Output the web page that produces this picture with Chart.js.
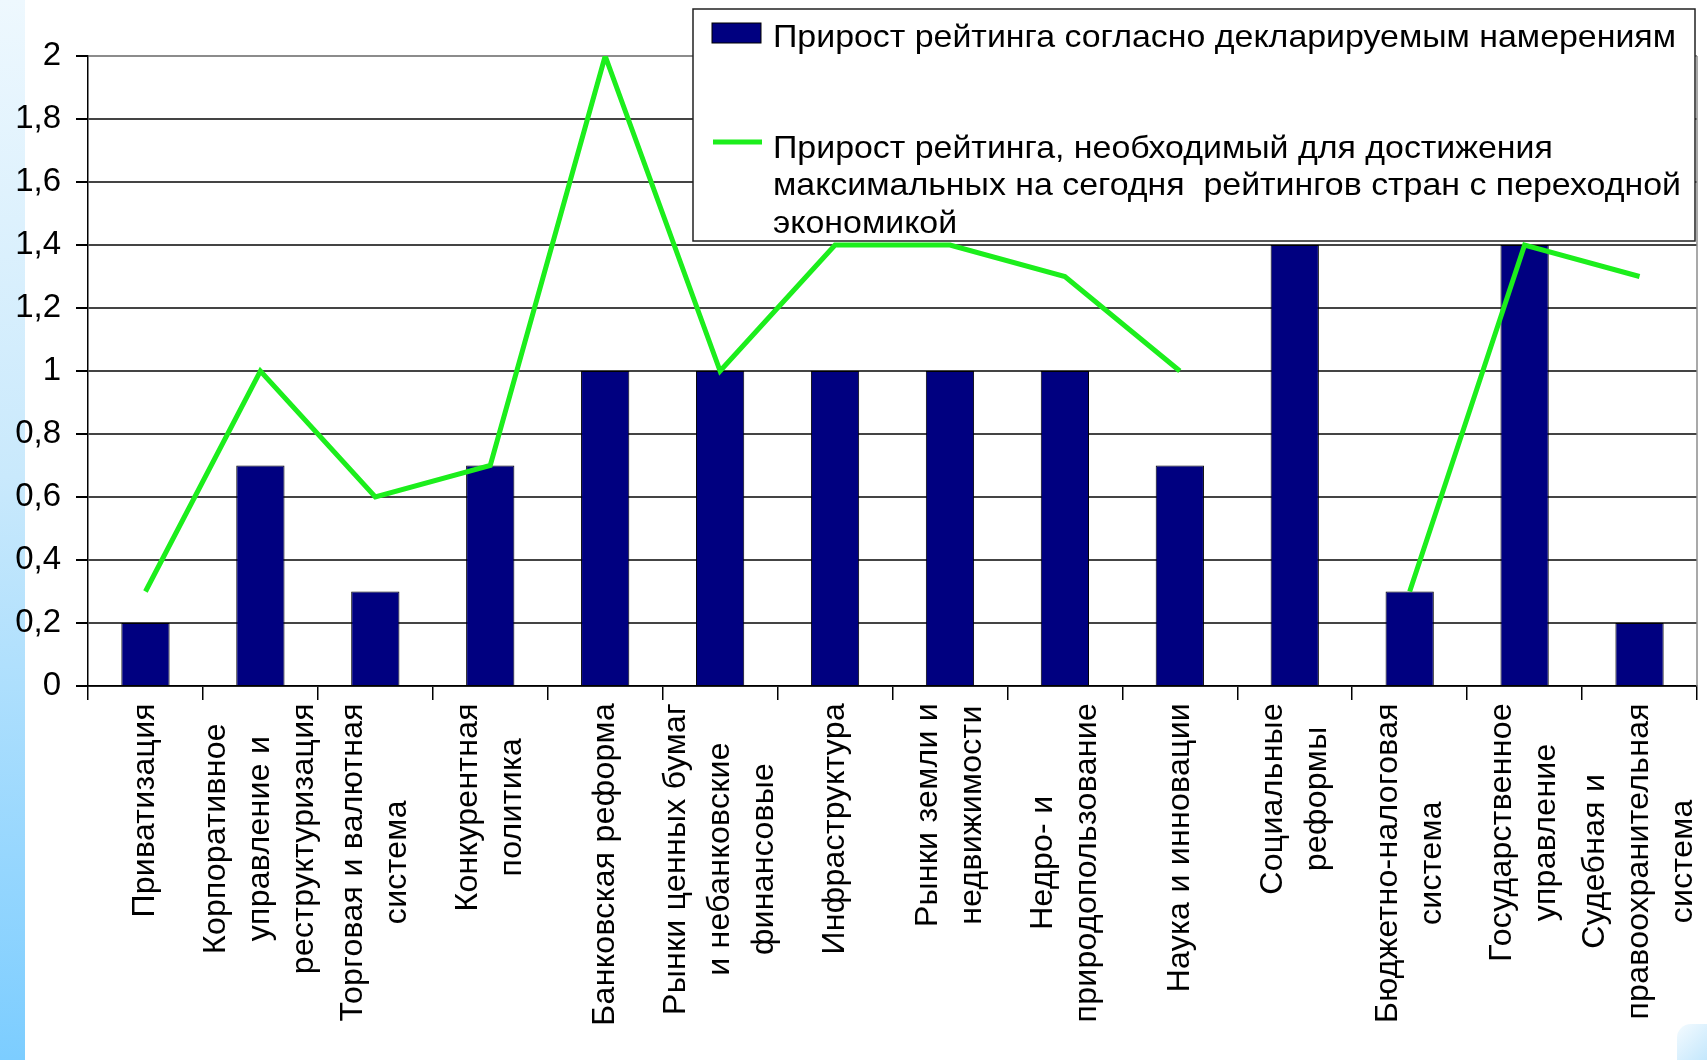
<!DOCTYPE html>
<html>
<head>
<meta charset="utf-8">
<script src="https://cdn.jsdelivr.net/npm/chart.js@4"></script>
<style>
  html, body { margin: 0; padding: 0; background: #fff; }
  body { width: 1707px; height: 1060px; position: relative; overflow: hidden; }
  .strip { position: absolute; left: 0; top: 0; width: 25px; height: 1060px;
           background: linear-gradient(to bottom, #eef8fe 0%, #c9e9fc 45%, #7ccdff 100%); }
  .corner { position: absolute; right: 0; bottom: 0; width: 30px; height: 36px;
            border-top-left-radius: 14px;
            background: linear-gradient(135deg, #f4fbff 0%, #c4e7fc 100%); }
  #chart { position: absolute; left: 0; top: 0; }
</style>
</head>
<body>
<div class="strip"></div>
<div class="corner"></div>
<canvas id="chart" width="1707" height="1060"></canvas>
<script>
const FONT = '"Liberation Sans", Arial, sans-serif';

// categories, one array of lines each (labels are drawn rotated)
const categories = [
  ['Приватизация'],
  ['Корпоративное', 'управление и', 'реструктуризация'],
  ['Торговая и валютная', 'система'],
  ['Конкурентная', 'политика'],
  ['Банковская реформа'],
  ['Рынки ценных бумаг', 'и небанковские', 'финансовые'],
  ['Инфраструктура'],
  ['Рынки земли и', 'недвижимости'],
  ['Недро- и', 'природопользование'],
  ['Наука и инновации'],
  ['Социальные', 'реформы'],
  ['Бюджетно-налоговая', 'система'],
  ['Государственное', 'управление'],
  ['Судебная и', 'правоохранительная', 'система']
];

const declaredGrowth = [0.2, 0.7, 0.3, 0.7, 1, 1, 1, 1, 1, 0.7, 1.4, 0.3, 1.4, 0.2];
const requiredGrowth = [0.3, 1.0, 0.6, 0.7, 2.0, 1.0, 1.4, 1.4, 1.3, 1.0, null, 0.3, 1.4, 1.3];

const barLegendLines = ['Прирост рейтинга согласно декларируемым намерениям'];
const lineLegendLines = [
  'Прирост рейтинга, необходимый для достижения',
  'максимальных на сегодня  рейтингов стран с переходной',
  'экономикой'
];

const yTickLabels = ['0', '0,2', '0,4', '0,6', '0,8', '1', '1,2', '1,4', '1,6', '1,8', '2'];

const BAR_COLOR = '#000080';
const LINE_COLOR = '#1cee1c';

// rotated, centred multi-line category labels
const categoryLabels = {
  id: 'categoryLabels',
  afterDraw(chart) {
    const ctx = chart.ctx;
    const xs = chart.scales.x;
    const top = chart.chartArea.bottom + 17;
    const lh = 44;
    ctx.save();
    ctx.font = '32px ' + FONT;
    ctx.letterSpacing = '0.3px';
    ctx.fillStyle = '#000';
    ctx.textAlign = 'center';
    ctx.textBaseline = 'middle';
    categories.forEach((lines, i) => {
      const x = xs.getPixelForValue(i);
      const maxW = Math.max(...lines.map(l => ctx.measureText(l).width));
      ctx.save();
      ctx.translate(x, top);
      ctx.rotate(-Math.PI / 2);
      lines.forEach((l, j) => {
        ctx.fillText(l, -maxW / 2, (j - (lines.length - 1) / 2) * lh);
      });
      ctx.restore();
    });
    ctx.restore();
  }
};

// plot border on the right + boxed legend over the plot
const boxLegend = {
  id: 'boxLegend',
  afterDatasetsDraw(chart) {
    const ctx = chart.ctx;
    const a = chart.chartArea;
    ctx.save();
    ctx.strokeStyle = '#8c8c8c';
    ctx.lineWidth = 1.5;
    ctx.beginPath();
    ctx.moveTo(a.right, a.top);
    ctx.lineTo(a.right, a.bottom);
    ctx.stroke();

    const bx = 693, by = 9, bw = 1002, bh = 232;
    ctx.fillStyle = '#fff';
    ctx.fillRect(bx, by, bw, bh);
    ctx.strokeStyle = '#222';
    ctx.lineWidth = 1.5;
    ctx.strokeRect(bx, by, bw, bh);

    ctx.font = '31px ' + FONT;
    ctx.fillStyle = '#000';
    ctx.textBaseline = 'middle';
    const fx = 903 / ctx.measureText(barLegendLines[0]).width;
    const drawText = (t, x, y) => {
      ctx.save();
      ctx.translate(x, y);
      ctx.scale(fx, 1.04);
      ctx.fillText(t, 0, 0);
      ctx.restore();
    };

    // bar entry
    ctx.fillStyle = BAR_COLOR;
    ctx.fillRect(712, 23, 49, 20);
    ctx.strokeStyle = '#000';
    ctx.lineWidth = 1;
    ctx.strokeRect(712, 23, 49, 20);
    ctx.fillStyle = '#000';
    barLegendLines.forEach((t, j) => drawText(t, 773, 38 + j * 37.5));

    // line entry
    ctx.strokeStyle = LINE_COLOR;
    ctx.lineWidth = 5;
    ctx.beginPath();
    ctx.moveTo(713, 142);
    ctx.lineTo(762, 142);
    ctx.stroke();
    lineLegendLines.forEach((t, j) => drawText(t, 773, 149 + j * 37.5));
    ctx.restore();
  }
};

new Chart(document.getElementById('chart'), {
  type: 'bar',
  data: {
    labels: categories.map(l => l.join(' ')),
    datasets: [
      {
        type: 'line',
        label: lineLegendLines.join(' '),
        data: requiredGrowth,
        borderColor: LINE_COLOR,
        borderWidth: 5,
        pointRadius: 0,
        tension: 0,
        spanGaps: false,
        order: 1
      },
      {
        type: 'bar',
        label: barLegendLines.join(' '),
        data: declaredGrowth,
        backgroundColor: BAR_COLOR,
        borderColor: '#000',
        borderWidth: 1,
        barPercentage: 0.42,
        categoryPercentage: 1,
        order: 2
      }
    ]
  },
  options: {
    responsive: false,
    animation: false,
    layout: { padding: { top: 56, right: 10, left: 0, bottom: 0 } },
    plugins: {
      legend: { display: false },
      tooltip: { enabled: false }
    },
    scales: {
      x: {
        offset: true,
        grid: { drawOnChartArea: false, tickLength: 14, color: '#000', lineWidth: 1.5 },
        border: { color: '#000', width: 1.5 },
        ticks: { display: false },
        afterFit: s => { s.height = 374; }
      },
      y: {
        min: 0,
        max: 2,
        ticks: {
          stepSize: 0.2,
          color: '#000',
          padding: 15,
          font: { size: 33, family: FONT },
          callback: (v, i) => yTickLabels[i]
        },
        grid: {
          color: c => c.index === yTickLabels.length - 1 ? '#8c8c8c' : '#444',
          lineWidth: 2,
          tickLength: 12,
          tickColor: '#000'
        },
        border: { color: '#000', width: 1.5 },
        afterFit: s => { s.width = 88; }
      }
    }
  },
  plugins: [boxLegend, categoryLabels]
});
</script>
</body>
</html>
